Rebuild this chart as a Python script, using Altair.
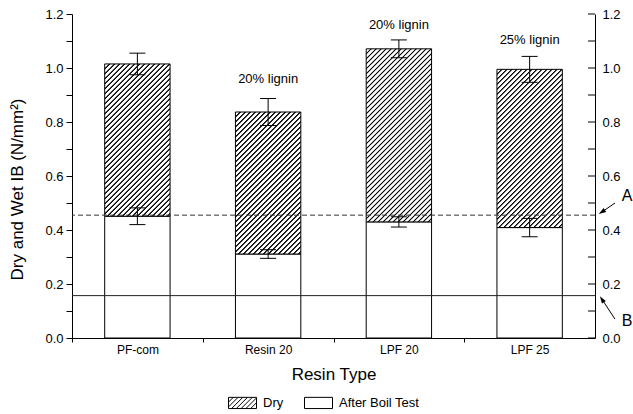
import altair as alt
import pandas as pd

# ---------------- data ----------------
resin = ["PF-com", "Resin 20", "LPF 20", "LPF 25"]
dry = [1.015, 0.837, 1.071, 0.995]
dry_err = [0.040, 0.050, 0.033, 0.048]
wet = [0.451, 0.311, 0.430, 0.409]
wet_err = [0.031, 0.016, 0.019, 0.034]

note_resin = ["Resin 20", "LPF 20", "LPF 25"]
note_text = ["20% lignin", "20% lignin", "25% lignin"]
note_y = [0.958, 1.158, 1.104]

ref_a = 0.455
ref_b = 0.157

arrow_lab = ["A", "B"]
arrow_tail = [0.500, 0.070]
arrow_head = [0.467, 0.143]
arrow_text_y = [0.526, 0.063]
arrow_angle = [236, 327]

y_ticks = [0.0, 0.1, 0.2, 0.3, 0.4, 0.5, 0.6, 0.7, 0.8, 0.9, 1.0, 1.1, 1.2]
legend_items = ["Dry", "After Boil Test"]

# ---------------- layout ----------------
W, H = 523, 324
YMAX = 1.2
FONT = "Liberation Sans"
PAD_IN, PAD_OUT = 0.5, 0.25
step = W / (len(resin) - PAD_IN + 2 * PAD_OUT)
bw = step * (1 - PAD_IN)
ppu = H / YMAX

label_expr = "round(datum.value*10) % 2 == 0 ? format(datum.value, '.1f') : ''"

yscale = alt.Scale(domain=[0, YMAX], nice=False, zero=True)
xscale = alt.Scale(domain=resin, paddingInner=PAD_IN, paddingOuter=PAD_OUT)

x_axis = alt.Axis(title="Resin Type", labelAngle=0, tickSize=4, labelPadding=2,
                  tickOffset=-step / 2, labelOffset=step / 2, titlePadding=11,
                  labelFontSize=12, titleFontSize=17, grid=False)
X = alt.X("resin:N", sort=resin, scale=xscale, axis=x_axis)

left_axis = alt.Axis(orient="left", title="Dry and Wet IB (N/mm²)", values=y_ticks,
                     labelExpr=label_expr, tickSize=6, labelPadding=3, titlePadding=18,
                     titleY=H / 2 + 13,
                     grid=False, labelOverlap=False, labelFlush=False,
                     labelFontSize=13, titleFontSize=17)
right_axis = alt.Axis(orient="right", title=None, values=y_ticks, labelExpr=label_expr,
                      ticks=False, tickSize=0, labelPadding=7, grid=False,
                      labelOverlap=False, labelFlush=False, labelFontSize=13)


def hatch(w, h, period=5.0):
    L = w + h
    c = L / (w * w + h * h)
    stops = [alt.GradientStop(color="white", offset=0)]
    k = 1
    while k * period < L - 1:
        cp = k * period
        for d, col in ((-1.2, "white"), (-0.4, "black"), (0.4, "black"), (1.2, "white")):
            off = (cp + d) / L
            if 0 < off < 1:
                stops.append(alt.GradientStop(color=col, offset=off))
        k += 1
    stops.append(alt.GradientStop(color="white", offset=1))
    return alt.LinearGradient(gradient="linear", stops=stops, x1=0, y1=0, x2=c * w, y2=c * h)


def legend_hatch_path(hw=1.0, hh=0.4, sp=0.34):
    parts = [f"M{-hw},{-hh}H{hw}V{hh}H{-hw}Z"]
    c = -hw - hh + sp
    while c < hw + hh:
        xb = max(-hw, c - hh)
        xt = min(hw, c + hh)
        if xt - xb > 1e-6:
            parts.append(f"M{xb:.3f},{c - xb:.3f}L{xt:.3f},{c - xt:.3f}")
        c += sp
    return "".join(parts)


rect_path = "M-1,-0.4H1V0.4H-1Z"
arrow_path = "M0,-1L0.6,0.9L-0.6,0.9Z"

# ---------------- tables ----------------
wet_df = pd.DataFrame({"resin": resin, "lo": [0.0] * len(resin), "hi": wet})
dry_df = pd.DataFrame({"resin": resin, "lo": wet, "hi": dry})
err_df = pd.DataFrame({
    "resin": resin + resin,
    "lo": [v - e for v, e in zip(dry, dry_err)] + [v - e for v, e in zip(wet, wet_err)],
    "hi": [v + e for v, e in zip(dry, dry_err)] + [v + e for v, e in zip(wet, wet_err)],
})
note_df = pd.DataFrame({"resin": note_resin, "y": note_y, "t": note_text})
arrow_df = pd.DataFrame({"lab": arrow_lab, "tail": arrow_tail, "head": arrow_head,
                         "ty": arrow_text_y, "ang": arrow_angle})

# ---------------- layers ----------------
wet_bars = alt.Chart(wet_df).mark_bar(fill="white", stroke="black", strokeWidth=1).encode(
    x=X, y=alt.Y("lo:Q", scale=yscale, axis=left_axis), y2="hi:Q")

dry_layers = []
for r, lo, hi in zip(resin, wet, dry):
    g = hatch(bw, (hi - lo) * ppu)
    dry_layers.append(
        alt.Chart(dry_df).transform_filter(alt.datum.resin == r)
        .mark_bar(fill=g, stroke="black", strokeWidth=1)
        .encode(x=X, y=alt.Y("lo:Q", scale=yscale, axis=None), y2="hi:Q"))

line_a = alt.Chart(pd.DataFrame({"y": [ref_a]})).mark_rule(
    color="#333333", strokeWidth=1, strokeDash=[5, 3]).encode(
    y=alt.Y("y:Q", scale=yscale, axis=None))
line_b = alt.Chart(pd.DataFrame({"y": [ref_b]})).mark_rule(
    color="#222222", strokeWidth=1).encode(
    y=alt.Y("y:Q", scale=yscale, axis=None))

err_rule = alt.Chart(err_df).mark_rule(color="black", strokeWidth=1).encode(
    x=X, y=alt.Y("lo:Q", scale=yscale, axis=None), y2="hi:Q")
err_lo = alt.Chart(err_df).mark_tick(color="black", size=16, thickness=1, opacity=1).encode(
    x=X, y=alt.Y("lo:Q", scale=yscale, axis=None))
err_hi = alt.Chart(err_df).mark_tick(color="black", size=16, thickness=1, opacity=1).encode(
    x=X, y=alt.Y("hi:Q", scale=yscale, axis=None))

notes = alt.Chart(note_df).mark_text(font=FONT, fontSize=13, color="black",
                                     baseline="middle", align="center").encode(
    x=X, y=alt.Y("y:Q", scale=yscale, axis=None), text="t:N")

arrows = alt.Chart(arrow_df).mark_rule(color="black", strokeWidth=1).encode(
    y=alt.Y("tail:Q", scale=yscale, axis=None), y2="head:Q",
    x=alt.value(W + 20), x2=alt.value(W + 7))
heads = alt.Chart(arrow_df).mark_point(shape=arrow_path, filled=True, size=60,
                                       color="black", opacity=1).encode(
    y=alt.Y("head:Q", scale=yscale, axis=None), x=alt.value(W + 7),
    angle=alt.Angle("ang:Q", scale=None))
arrow_txt = alt.Chart(arrow_df).mark_text(font=FONT, fontSize=16, color="black",
                                          baseline="middle", align="center").encode(
    y=alt.Y("ty:Q", scale=yscale, axis=None), x=alt.value(W + 32), text="lab:N")

right = alt.Chart(pd.DataFrame({"v": y_ticks})).mark_rule(color="black", strokeWidth=1).encode(
    y=alt.Y("v:Q", scale=yscale, axis=right_axis),
    x=alt.value(W - 7), x2=alt.value(W))

legend_layer = alt.Chart(pd.DataFrame({"type": legend_items})).transform_filter("false").mark_point(
    filled=False, size=784, color="black", opacity=1).encode(
    shape=alt.Shape("type:N", scale=alt.Scale(domain=legend_items,
                                               range=[legend_hatch_path(), rect_path]),
                    legend=alt.Legend(orient="none", legendX=156, legendY=374,
                                      direction="horizontal", title=None,
                                      symbolSize=784, symbolStrokeColor="black",
                                      symbolFillColor="white", symbolStrokeWidth=1,
                                      symbolOpacity=1, labelFontSize=13, labelOffset=6,
                                      columnPadding=18, padding=0)))

chart = alt.layer(
    wet_bars, *dry_layers, line_a, line_b, err_rule, err_lo, err_hi,
    notes, arrows, heads, arrow_txt, right, legend_layer
).resolve_axis(y="independent").properties(
    width=W, height=H,
    padding={"left": 72, "top": 14, "right": 38, "bottom": 76},
    autosize=alt.AutoSizeParams(type="none"),
).configure_view(strokeWidth=0).configure_axis(
    labelFont=FONT, titleFont=FONT, labelColor="black", titleColor="black",
    domainColor="black", tickColor="black", domainWidth=1, tickWidth=1,
    titleFontWeight="normal",
).configure_legend(labelFont=FONT, labelColor="black")

chart.save("out.html", embed_options={"renderer": "svg", "actions": False})
